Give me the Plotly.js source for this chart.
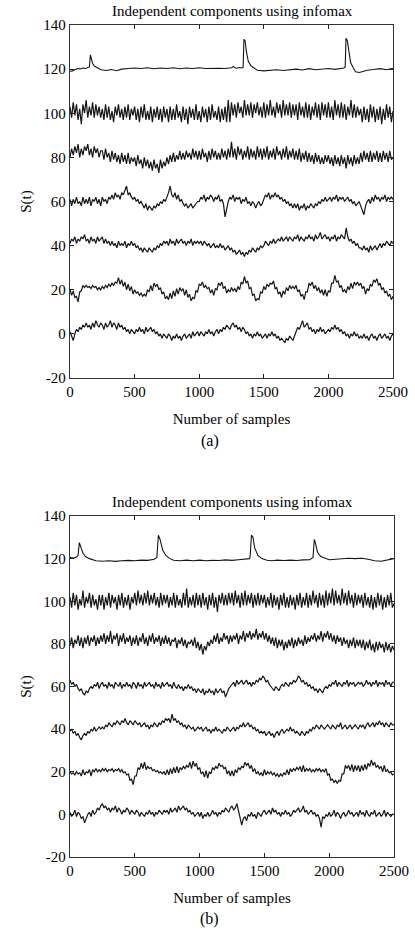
<!DOCTYPE html>
<html>
<head>
<meta charset="utf-8">
<script src="https://cdn.plot.ly/plotly-3.0.1.min.js"></script>
<style>
  html, body { margin: 0; padding: 0; background: #fff; }
  #chart { width: 415px; height: 932px; }
</style>
</head>
<body>
<div id="chart"></div>
<script>
// ---------------- DATA ----------------
// Total number of samples on the x axis; noisy components are stored as
// evenly spaced readings across it (every 12.5 samples).
const totalSamples = 2500;
// Vertical offsets used to stack the components (S(t) = component + offset)
const offsets = [0, 20, 40, 60, 80, 100, 120];

// Panel (a) – peaky component (offset 120), explicit sample positions
const aPeakSamples = [0,20,40,60,80,100,120,140,150,158,165,175,190,210,240,280,320,360,400,450,500,550,600,650,700,750,800,850,900,950,1000,1050,1100,1150,1200,1250,1265,1275,1290,1310,1330,1340,1346,1355,1365,1380,1400,1425,1450,1500,1550,1600,1650,1700,1750,1800,1850,1900,1950,2000,2050,2100,2120,2130,2136,2146,2158,2172,2190,2210,2240,2270,2300,2350,2400,2450,2500];
const aPeakValues = [-1,-0.8,-0.2,0.3,0.1,0.5,0.3,0.8,1,6.5,4.5,2.5,1.3,0.6,-0.3,-0.6,-0.2,-0.7,0,0.3,0.5,0.3,0.6,0.2,0.5,0.3,0.6,0.2,0.5,0.3,0.6,0.3,0.5,0.4,0.3,0.6,1.2,0.6,0.4,0.7,0.5,0.8,13.5,13,8,3.5,1.5,0.5,-0.5,-0.8,-0.6,-0.3,-0.6,-0.2,0,-0.4,0.2,-0.3,0.1,0.3,-0.1,0.4,0.5,1,14,13,8,3,0.8,-1.2,-1.5,-1,-0.5,-0.2,0.2,-0.3,0.4];

// Panel (a) – noisy components
const aComp0 = [
  1,-1,-3,0,2,1,3,2,4,3,5,3,4,2,5,3,6,4,3,5,
  4,2,5,3,4,6,3,5,4,2,5,3,4,2,3,1,2,0,2,1,
  0,2,1,3,1,2,0,3,1,2,3,1,2,0,1,-1,0,-2,0,-1,
  -2,0,-1,-3,-1,-2,0,-2,-1,-3,-1,0,-2,-1,0,-2,1,-1,0,1,
  -1,1,0,-1,1,0,2,0,1,-1,1,2,0,2,1,3,2,4,3,2,
  4,5,3,4,2,3,1,3,2,0,1,-1,0,-2,0,-1,1,-1,0,-2,
  -1,0,-2,0,-1,1,-1,0,-2,-1,-3,-2,-3,-4,-2,-3,-1,-2,-3,-1,
  1,3,2,4,6,3,4,5,2,3,1,2,0,2,1,3,1,2,0,1,
  2,1,3,2,4,2,3,1,2,0,1,-1,0,-2,0,-1,1,-1,0,-2,
  -1,-2,0,-2,-1,-3,-1,0,-2,-1,-3,-1,0,-2,-1,0,-2,-1,-3,-1,
  0];
const aComp20 = [
  0,-2.5,-0.5,-3.5,-3,-5.5,-1,-0.5,2,1,2,1,1.5,0.5,2,1,1.5,0,1,0,
  1.5,0.5,2,1,2.5,1.5,3,2,3.5,3,5.5,2.5,4.5,1.5,3.5,0,2.5,-0.5,1.5,-2,
  0,-1.5,-1,-2.5,-1.5,-3,-2,-3,0,-1,2,-0.5,3,1.5,2.5,0,1,-2,-1,-4,
  -3,-4.5,-1.5,-4,-0.5,-3,0.5,-2,1,-0.5,0.5,-2.5,0,-3.5,-2,-5,-3.5,-4,-0.5,-1,
  2.5,2,3.5,1,2,0.5,1,-1.5,0,-2.5,0.5,0,3,2,3.5,0.5,1.5,-1.5,0,-1,
  1,-0.5,0.5,-1,1.5,0,3.5,2.5,6,3,4,0.5,1,-2.5,-2,-5,-4,-4.5,-1,-1.5,
  1.5,0,2.5,1.5,3,2.5,4,0.5,1,-2,-1,-3.5,-0.5,-2,1,-0.5,2,0.5,1.5,0.5,
  2,-1,0,-3,-2,-4.5,-1,-1,3,2,3.5,0.5,2,-0.5,1,-1.5,0,-2.5,0,-3,
  -0.5,-1,3,3,6.5,3.5,4,1,2,-1,0,-1.5,1.5,0,3,0.5,3.5,2,3.5,2,
  3,0.5,1.5,-2,0.5,-0.5,2.5,1.5,4.5,3.5,5,2,3,0,1,-1.5,-0.5,-3,-2,-4.5,
  -3];
const aComp40 = [
  1,3,2,4,1,3,2,4,3,5,2,3,1,4,2,3,1,4,2,3,
  4,1,3,1,2,0,2,0,1,-1,2,0,1,0,2,-1,1,0,2,0,
  1,-1,0,-2,-1,-3,-1,-2,-3,-1,-2,-3,-1,-2,0,-1,1,0,2,1,
  2,0,3,1,2,0,3,1,2,3,1,2,0,2,1,3,0,2,1,2,
  1,2,0,2,1,0,1,-1,0,1,-1,0,-1,1,-1,0,-2,-1,0,-2,
  -1,-3,-2,-4,-3,-2,-4,-3,-5,-3,-4,-2,-3,-1,-2,-3,-1,-2,0,-1,
  0,2,1,0,2,1,3,1,2,3,2,4,2,3,4,2,4,3,2,4,
  3,5,2,4,3,2,4,3,5,3,4,2,5,3,4,6,3,4,5,3,
  4,2,4,3,5,2,4,3,5,4,3,8,4,2,3,1,2,0,1,-1,
  -1,-2,0,-2,-1,-3,0,-2,-1,0,-2,0,1,-1,1,0,2,1,0,2,
  1];
const aComp60 = [
  1,-2,1,-1,2,-1,0,-2,2,-1,1,-1,2,-2,1,0,2,-1,1,-2,
  2,0,1,-1,2,1,3,1,4,2,3,1,4,3,5,7,3,4,2,1,
  2,0,1,-1,0,-2,-3,-1,-4,-2,-3,-4,-2,-3,-1,-2,0,-1,1,0,
  2,4,7,3,2,4,1,3,0,1,-1,-2,-1,-3,-2,-1,-3,-2,-1,0,
  0,2,1,3,0,2,1,3,2,0,2,1,3,0,1,-1,-7,-3,0,2,
  1,3,0,2,1,2,-1,1,0,2,-1,0,-2,0,-1,-3,-1,0,-2,-1,
  1,3,2,4,1,3,2,4,2,3,1,2,0,1,-1,0,-2,-1,-3,-1,
  -3,-1,-4,-2,-3,-1,-4,-2,-3,-1,-2,-3,-1,-2,0,-1,1,0,2,0,
  1,2,0,2,1,3,0,2,1,2,0,1,2,0,1,-1,0,-2,-1,0,
  -2,-4,-6,-2,0,1,-1,2,0,3,1,2,0,2,1,3,0,2,1,2,
  1];
const aComp80 = [
  0,4,1,5,2,6,0,4,1,5,3,6,1,4,0,5,2,4,0,3,
  3,-1,4,0,2,-2,3,-1,2,-2,1,-3,2,-2,1,-3,2,-3,0,-2,
  0,-4,1,-3,-1,-5,0,-4,-1,-5,-2,-6,-1,-5,-3,-7,-1,-5,-2,-4,
  0,-3,1,-2,2,-2,1,-1,3,-1,2,-1,3,0,2,-1,4,0,3,-1,
  3,-1,4,0,2,-2,3,-1,4,0,3,-1,2,-1,4,0,3,-1,4,0,
  7,0,4,-1,5,1,4,-1,3,0,5,-1,4,0,3,-1,5,0,4,-1,
  4,0,5,-1,3,0,4,-1,5,1,3,-1,4,0,5,-1,3,0,4,-1,
  3,-1,4,-2,2,-1,3,-2,2,-2,1,-3,2,-2,1,-3,0,-3,1,-2,
  1,-3,0,-4,1,-3,0,-4,1,-3,0,-5,1,-3,0,-4,1,-3,0,-3,
  2,-2,3,-1,2,-2,3,-2,2,-1,3,-2,2,-2,3,-1,2,-2,3,-1,
  0];
const aComp100 = [
  3,-2,5,-1,4,-3,2,-5,4,0,6,-2,3,-1,5,-2,4,-1,3,-2,
  2,-3,4,-2,3,-3,1,-4,3,-1,4,-2,2,-3,3,-2,4,-3,2,-1,
  3,-3,2,-4,3,-2,4,-3,1,-3,3,-4,2,-2,3,-3,2,-4,3,-2,
  2,-4,3,-3,2,-3,4,-2,1,-4,3,-3,2,-5,3,-2,2,-3,4,-3,
  1,-4,3,-2,2,-4,3,-3,4,-2,1,-3,3,-4,2,-3,3,-4,6,-4,
  5,-1,4,-2,5,0,3,-2,6,-1,4,-1,5,-2,4,0,5,-1,3,-2,
  5,-2,4,-1,6,-1,3,-2,5,0,4,-2,6,-1,4,-1,5,-2,4,-1,
  4,-3,5,-1,3,-2,5,-2,4,-3,3,-1,5,-2,4,-3,5,-1,4,-2,
  5,-2,3,-3,6,-1,4,-2,5,-2,4,-3,3,-1,6,-2,4,-2,3,-1,
  2,-4,3,-3,2,-4,4,-2,3,-4,2,-3,3,-5,2,-3,4,-2,3,-4,
  1];

// Panel (b) – peaky component (offset 120), explicit sample positions
const bPeakSamples = [0,30,50,62,72,85,100,120,150,200,250,300,350,400,450,500,550,600,650,670,682,695,715,740,770,800,850,900,950,1000,1050,1100,1150,1200,1250,1300,1350,1385,1390,1400,1412,1425,1450,1480,1520,1560,1600,1650,1700,1750,1800,1850,1875,1885,1895,1910,1935,1970,2000,2050,2100,2150,2200,2250,2300,2350,2400,2450,2500];
const bPeakValues = [0.5,0.3,0.8,1.5,7.5,5,2.5,1,0,-1,-1.2,-1,-1.3,-1,-0.8,-1,-0.7,-0.8,-0.3,0.5,11,9,4,1.5,0,-0.8,-1,-0.7,-1,-0.7,-1,-0.8,-0.9,-0.6,-0.8,-0.5,-0.3,0,1,11,10,5,1.5,0,-0.8,-1,-0.7,-0.9,-0.7,-0.9,-0.6,-0.5,0.5,9,7,3,1,0,-0.5,-0.3,0,0.2,0,0.2,-0.3,-1,-1.2,-0.6,0];

// Panel (b) – noisy components
const bComp0 = [
  1,-1,0,2,-1,1,0,-2,-1,-4,-2,0,1,-1,2,0,1,3,2,4,
  5,3,4,2,3,1,3,2,4,1,3,2,0,2,1,3,2,0,2,1,
  0,2,1,-1,1,0,-1,1,0,2,0,1,-1,1,0,2,1,0,2,1,
  2,0,3,1,2,3,1,4,2,3,4,2,3,1,2,0,1,-1,0,1,
  -1,1,-2,0,-1,1,-1,0,2,0,1,-1,1,0,2,1,3,2,1,3,
  4,2,3,5,2,-1,-5,-2,-1,-3,0,-1,1,-1,0,-2,1,0,-1,1,
  2,0,1,2,0,3,1,2,0,1,-1,1,0,2,0,1,-1,0,2,1,
  2,3,1,2,4,1,2,0,1,2,0,1,-1,0,-2,-6,-1,-2,0,-1,
  1,-1,0,2,-1,1,0,-2,0,1,-1,0,2,0,1,-1,0,1,-1,2,
  0,1,-1,2,0,-1,1,0,2,-1,0,1,-1,0,2,-1,1,0,-1,0,
  0];
const bComp20 = [
  0,-1,-0.5,-1.5,0,-1,-0.5,-2,1,-1.5,0,-0.5,1,-2,1,0,1.5,0,1,0,
  1.5,0.5,1.5,0,1,0.5,1.5,0,1,0.5,1.5,0,1,-0.5,0,-1.5,-1,-4,-3.5,-6,
  -2,-2,2,1,4,1.5,4.5,1,2.5,1.5,2,0.5,1,0,0.5,-0.5,0,-1,0,-1.5,
  1,-1.5,1.5,-1,2,-0.5,2.5,-0.5,2,1,2.5,1.5,3,2,4.5,1.5,5,2.5,4,1,
  2,-1,0,-2.5,0.5,-3,0,-1,2,1,2.5,1.5,4,2.5,3,1.5,2,-1,0.5,-2,
  0.5,-2,1,-0.5,2,1,2.5,2,4.5,3,4,1.5,3,0,1.5,-1,0,-1.5,-0.5,-2,
  1,-1.5,0,-1,0,-1.5,-0.5,-2,-1,-2.5,-1,-2,-0.5,-1.5,1,-1.5,1.5,0,1.5,0.5,
  2,1,2.5,0,3,0,1.5,0.5,1.5,0,1,0,1.5,0.5,1.5,0,1,0,1.5,-1.5,
  -1,-4,-3.5,-5,-4,-5.5,-4,-4.5,-1,-1,3,1.5,3,0.5,3.5,0,3,0.5,3,0,
  3,0.5,3.5,1,4,2.5,5.5,3,4.5,2,3,1.5,2.5,0,3,0,1,-0.5,0,-1.5,
  -1];
const bComp40 = [
  -1,0,-2,-1,-3,-2,-4,-5,-3,-2,-3,-1,-2,0,-1,1,-1,0,1,0,
  1,0,2,1,3,2,1,3,2,4,3,2,4,3,5,3,2,4,3,2,
  4,3,2,3,1,2,3,1,2,0,2,1,3,2,1,3,2,4,3,5,
  4,5,3,7,4,5,3,4,2,3,1,2,0,2,1,0,1,-1,0,1,
  0,1,-1,0,1,-1,0,-2,0,-1,1,-1,0,-1,-2,0,-1,1,0,-1,
  0,1,-1,1,0,2,1,3,1,2,3,1,2,0,1,-1,0,-2,-1,-2,
  -1,-3,-2,-1,-3,-2,-4,-2,-1,-3,-1,0,-2,-1,0,-1,1,-1,0,-2,
  -1,-2,-3,-1,-2,-3,-1,-2,0,-1,1,0,2,1,0,2,1,0,1,2,
  1,0,2,1,0,2,1,3,0,1,2,0,1,2,0,1,2,1,0,2,
  1,2,0,2,3,1,2,3,1,3,2,4,2,3,1,3,2,1,3,2,
  2];
const bComp60 = [
  3,1,2,0,1,-1,-2,-1,-3,-4,-2,-3,-1,0,-1,1,0,2,-1,1,
  2,0,1,-1,2,0,1,-1,2,1,0,2,-1,1,0,2,0,1,-1,2,
  1,-1,2,0,1,-1,2,0,1,2,0,1,-1,2,0,1,-1,2,0,1,
  2,0,1,-1,2,0,-1,1,-1,0,-2,0,-1,1,-1,0,-2,-1,-3,-1,
  -2,-3,-1,-4,-2,-3,-1,-3,-2,-4,-1,-3,-2,-1,-3,-2,-5,-3,-1,0,
  1,2,0,3,1,2,3,1,2,3,1,2,0,2,1,3,2,4,3,5,
  4,2,3,1,0,-1,-2,0,-1,-2,0,1,0,2,1,0,2,1,3,2,
  3,5,4,2,3,1,2,0,1,-1,0,-2,-1,-3,-1,-2,-3,-1,0,-1,
  1,0,2,1,3,0,2,1,0,2,1,3,0,2,1,2,0,1,2,1,
  2,0,1,3,1,2,0,2,1,3,0,2,1,2,0,3,1,2,0,2,
  2];
const bComp80 = [
  -1,3,-2,2,0,4,-1,3,-2,3,0,4,-1,3,1,4,-1,3,0,4,
  1,5,0,4,1,6,0,4,2,5,-1,4,1,5,0,3,1,4,-1,3,
  0,4,-1,3,1,5,0,3,-1,4,1,5,0,3,1,4,-1,3,0,4,
  0,3,-1,2,1,3,-2,2,0,3,-1,2,-2,1,0,2,-1,3,-2,1,
  -3,0,-5,-1,-3,1,-1,2,0,4,1,5,0,3,1,5,2,4,0,4,
  1,4,2,5,0,4,2,6,1,5,3,6,2,5,3,7,2,5,3,6,
  2,5,1,4,0,3,-1,3,-2,2,-1,2,-3,1,-2,2,-1,3,-2,2,
  -1,3,0,2,-1,4,0,3,1,4,2,5,1,4,2,6,1,5,3,6,
  2,5,1,4,0,4,1,3,-1,3,0,2,-2,2,-1,3,-2,2,-1,2,
  -2,2,-3,1,-2,2,-3,0,-4,1,-3,1,-2,0,-4,1,-3,0,-4,-1,
  -3];
const bComp100 = [
  2,-3,4,-2,3,-4,1,-2,5,-3,2,-1,4,-3,3,-2,1,-4,3,-2,
  3,-4,2,-2,4,-3,3,-1,2,-4,3,-2,4,-3,2,-2,3,-4,2,-1,
  4,-2,5,-1,3,-2,4,-1,5,-2,3,-1,4,-2,2,-3,4,-2,3,-1,
  3,-3,2,-2,4,-3,3,-2,1,-3,4,-2,6,-3,2,-2,3,-3,4,-2,
  3,-3,4,-2,2,-4,3,-2,4,-3,2,-5,3,-1,4,-2,3,-2,4,-1,
  4,-2,5,-1,3,-3,4,-2,5,-2,3,-1,4,-3,3,-2,4,-2,3,-1,
  3,-3,2,-2,4,-3,3,-2,2,-4,3,-2,4,-3,2,-3,3,-2,2,-4,
  3,-2,4,-3,2,-2,4,-3,3,-2,5,-1,3,-3,4,-2,3,-3,5,-2,
  4,-1,6,-2,5,-1,3,-2,6,-1,4,-2,5,-1,3,-3,4,-2,3,-1,
  3,-3,4,-2,2,-3,3,-4,2,-3,4,-2,3,-4,2,-3,3,-2,4,-3,
  -1];

// Axis ticks and texts
const xTicks = [0, 500, 1000, 1500, 2000, 2500];
const yTicks = [-20, 0, 20, 40, 60, 80, 100, 120, 140];
const panelTitle = 'Independent components using infomax';
const xTitle = 'Number of samples';
const yTitle = 'S(t)';
const captions = ['(a)', '(b)'];

// ---------------- BUILD ----------------
const FONT = 'Liberation Serif, Times New Roman, serif';
const LINE = {color: '#151515', width: 1.2};

function noisyTrace(vals, off, xa, ya) {
  const step = totalSamples / (vals.length - 1);
  return {
    x: vals.map((_, i) => i * step),
    y: vals.map(v => v + off),
    mode: 'lines', line: LINE, xaxis: xa, yaxis: ya, hoverinfo: 'skip', showlegend: false
  };
}
function peakTrace(xs, vals, off, xa, ya) {
  return {
    x: xs, y: vals.map(v => v + off),
    mode: 'lines', line: {color: '#151515', width: 1.1}, xaxis: xa, yaxis: ya, hoverinfo: 'skip', showlegend: false
  };
}

const aComps = [aComp0, aComp20, aComp40, aComp60, aComp80, aComp100];
const bComps = [bComp0, bComp20, bComp40, bComp60, bComp80, bComp100];

const data = [];
aComps.forEach((c, k) => data.push(noisyTrace(c, offsets[k], 'x', 'y')));
data.push(peakTrace(aPeakSamples, aPeakValues, offsets[6], 'x', 'y'));
bComps.forEach((c, k) => data.push(noisyTrace(c, offsets[k], 'x2', 'y2')));
data.push(peakTrace(bPeakSamples, bPeakValues, offsets[6], 'x2', 'y2'));

const W = 415, H = 932;
function px2x(p) { return p / W; }
function px2y(p) { return 1 - p / H; }

function xAxis(anchor, domain) {
  return {
    anchor: anchor, domain: domain, range: [0, 2500],
    tickmode: 'array', tickvals: xTicks, ticktext: xTicks.map(String),
    ticks: 'inside', ticklen: 4, tickcolor: '#222', tickwidth: 1,
    showline: true, linecolor: '#333', linewidth: 1.3, mirror: 'allticks',
    showgrid: false, zeroline: false,
    tickfont: {family: FONT, size: 15, color: '#000'},
    title: {text: xTitle, font: {family: FONT, size: 15, color: '#000'}, standoff: 14}
  };
}
function yAxis(anchor, domain) {
  return {
    anchor: anchor, domain: domain, range: [-20, 140],
    tickmode: 'array', tickvals: yTicks, ticktext: yTicks.map(String),
    ticks: 'inside', ticklen: 4, tickcolor: '#222', tickwidth: 1,
    showline: true, linecolor: '#333', linewidth: 1.3, mirror: 'allticks',
    showgrid: false, zeroline: false,
    tickfont: {family: FONT, size: 15, color: '#000'},
    title: {text: yTitle, font: {family: FONT, size: 15, color: '#000'}, standoff: 8}
  };
}

const layout = {
  width: W, height: H,
  margin: {l: 0, r: 0, t: 0, b: 0},
  paper_bgcolor: '#fff', plot_bgcolor: '#fff',
  showlegend: false,
  xaxis: xAxis('y', [px2x(70), px2x(393)]),
  yaxis: yAxis('x', [px2y(378), px2y(25)]),
  xaxis2: xAxis('y2', [px2x(70), px2x(394)]),
  yaxis2: yAxis('x2', [px2y(857), px2y(516)]),
  annotations: [
    {text: panelTitle, xref: 'paper', yref: 'paper', x: px2x(232), y: px2y(11), xanchor: 'center', yanchor: 'middle', showarrow: false, font: {family: FONT, size: 15, color: '#000'}},
    {text: panelTitle, xref: 'paper', yref: 'paper', x: px2x(232), y: px2y(502), xanchor: 'center', yanchor: 'middle', showarrow: false, font: {family: FONT, size: 15, color: '#000'}},
    {text: captions[0], xref: 'paper', yref: 'paper', x: px2x(210), y: px2y(441), xanchor: 'center', yanchor: 'middle', showarrow: false, font: {family: FONT, size: 16, color: '#000'}},
    {text: captions[1], xref: 'paper', yref: 'paper', x: px2x(210), y: px2y(919), xanchor: 'center', yanchor: 'middle', showarrow: false, font: {family: FONT, size: 16, color: '#000'}}
  ]
};

Plotly.newPlot('chart', data, layout, {staticPlot: true, displayModeBar: false});
</script>
</body>
</html>
